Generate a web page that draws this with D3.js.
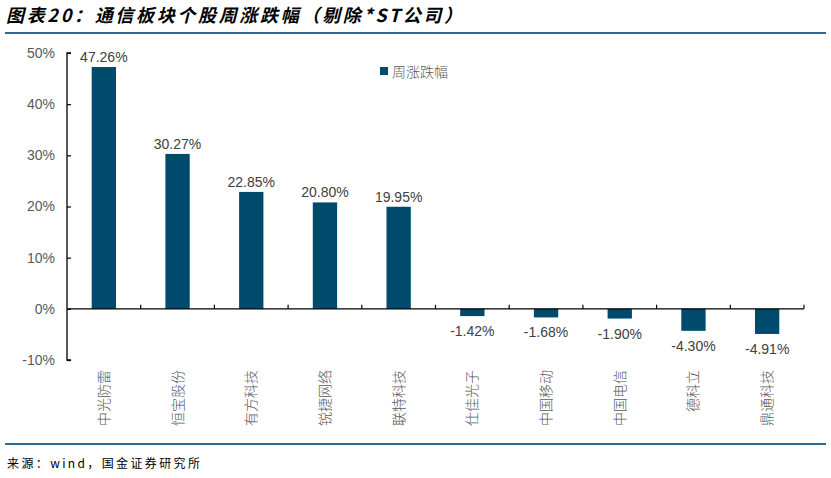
<!DOCTYPE html>
<html><head><meta charset="utf-8">
<script src="https://cdn.jsdelivr.net/npm/d3@7"></script>
<style>body{margin:0;background:#fff}svg{display:block}</style>
</head><body>
<script>
const categories = ["中光防雷","恒宝股份","有方科技","锐捷网络","联特科技","仕佳光子","中国移动","中国电信","德科立","鼎通科技"];
const values = [47.26, 30.27, 22.85, 20.80, 19.95, -1.42, -1.68, -1.90, -4.30, -4.91];
const yTicks = [-10, 0, 10, 20, 30, 40, 50];
const seriesName = "周涨跌幅";
const title = "图表20：通信板块个股周涨跌幅（剔除*ST公司）";
const source = "来源：wind，国金证券研究所";

const W = 831, H = 478;
const svg = d3.select("body").append("svg").attr("width", W).attr("height", H);
const font = "'Liberation Sans', 'Noto Sans CJK SC', sans-serif";
const cjk = "'Noto Sans CJK SC', sans-serif";
const barColor = "#004a6e";
const lineColor = "#2a6a96";

svg.append("text").attr("x", 6).attr("y", 22).text(title)
  .attr("font-family", cjk).attr("font-size", 18).attr("font-weight", "bold")
  .attr("font-style", "italic").attr("fill", "#000")
  .attr("textLength", 456).attr("lengthAdjust", "spacing");
svg.append("line").attr("x1", 5).attr("x2", 826).attr("y1", 33).attr("y2", 33)
  .attr("stroke", lineColor).attr("stroke-width", 2);
svg.append("line").attr("x1", 5).attr("x2", 826).attr("y1", 444).attr("y2", 444)
  .attr("stroke", lineColor).attr("stroke-width", 2);
svg.append("text").attr("x", 7).attr("y", 468).text(source)
  .attr("font-family", cjk).attr("font-size", 12).attr("fill", "#000")
  .attr("textLength", 193).attr("lengthAdjust", "spacing");

const x = d3.scaleBand().domain(categories).range([67, 804]).paddingInner(0.67).paddingOuter(0.335);
const y = d3.scaleLinear().domain([-10, 50]).range([360, 53]);

// y axis
const yAxis = svg.append("g").attr("transform", "translate(67,0)")
  .call(d3.axisRight(y).tickValues(yTicks).tickFormat(d => d + "%").tickSize(4));
yAxis.select(".domain").attr("stroke", "#000").attr("stroke-width", 1.3).attr("d", `M4,${y(-10)}H0V${y(50)}H4`);
yAxis.selectAll(".tick line").attr("stroke", "#000").attr("stroke-width", 1.2);
yAxis.selectAll(".tick text").attr("x", -12).attr("text-anchor", "end")
  .attr("font-family", font).attr("font-size", 14).attr("fill", "#595959");

// bars
svg.append("g").selectAll("rect").data(values).join("rect")
  .attr("x", (d, i) => x(categories[i]))
  .attr("width", x.bandwidth())
  .attr("y", d => y(Math.max(0, d)))
  .attr("height", d => Math.abs(y(d) - y(0)))
  .attr("fill", barColor);

// zero axis
const step = x.step();
svg.append("line").attr("x1", 67).attr("x2", 804).attr("y1", y(0)).attr("y2", y(0))
  .attr("stroke", "#000").attr("stroke-width", 1.3);
const bounds = d3.range(1, categories.length + 1).map(i => 67 + i * step);
svg.append("g").selectAll("line").data(bounds).join("line")
  .attr("x1", d => d).attr("x2", d => d).attr("y1", y(0)).attr("y2", y(0) - 4)
  .attr("stroke", "#000").attr("stroke-width", 1.2);

// value labels
svg.append("g").selectAll("text").data(values).join("text")
  .attr("x", (d, i) => x(categories[i]) + x.bandwidth() / 2)
  .attr("y", d => d >= 0 ? y(d) - 5 : y(d) + 20)
  .attr("text-anchor", "middle")
  .attr("font-family", font).attr("font-size", 14).attr("fill", "#404040")
  .text(d => d.toFixed(2) + "%");

// category labels (vertical)
svg.append("g").selectAll("text").data(categories).join("text")
  .attr("transform", d => `translate(${x(d) + x.bandwidth() / 2 + 5},370) rotate(-90)`)
  .attr("text-anchor", "end")
  .attr("font-family", cjk).attr("font-size", 14).attr("font-weight", 300).attr("fill", "#595959")
  .text(d => d);

// legend
svg.append("rect").attr("x", 380).attr("y", 67).attr("width", 8).attr("height", 8).attr("fill", barColor);
svg.append("text").attr("x", 392).attr("y", 77).text(seriesName)
  .attr("font-family", cjk).attr("font-size", 14).attr("font-weight", 300).attr("fill", "#595959");
</script>
</body></html>
